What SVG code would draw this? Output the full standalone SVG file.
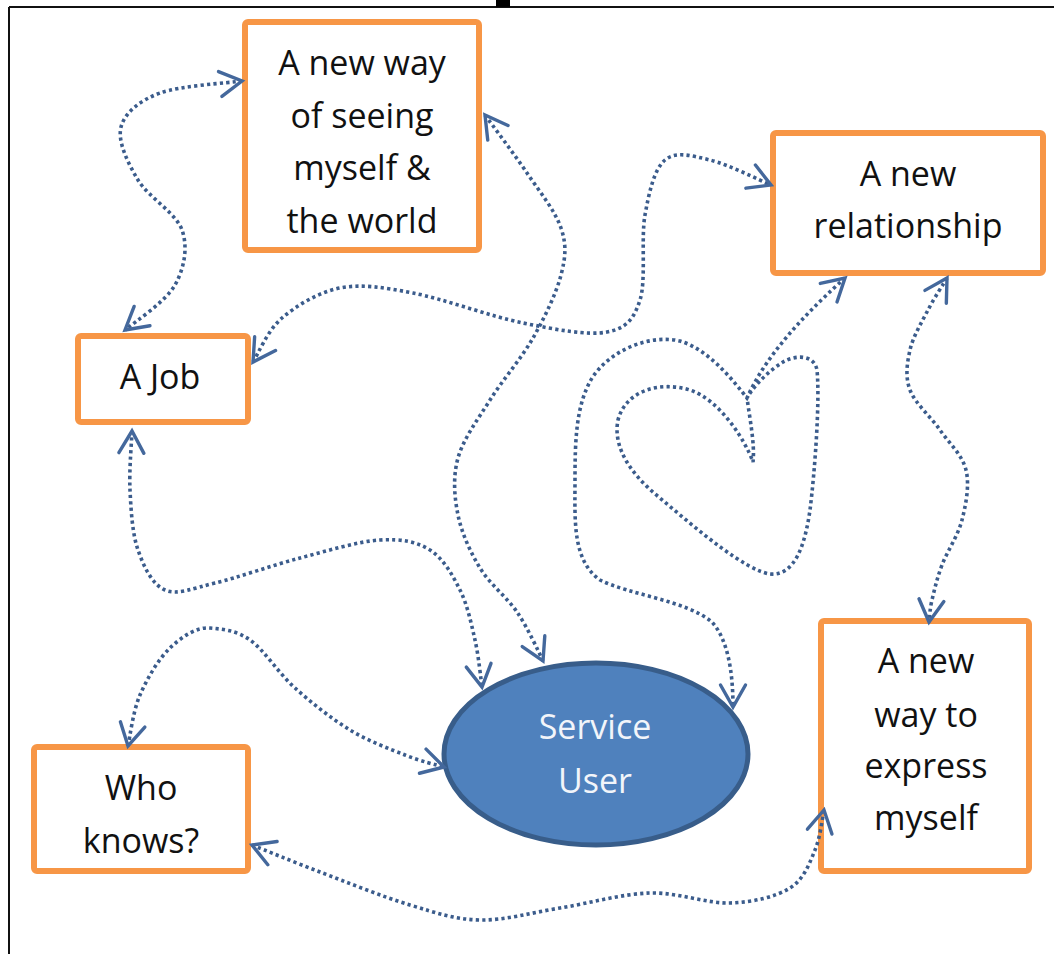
<svg xmlns="http://www.w3.org/2000/svg" width="1054" height="954" viewBox="0 0 1054 954">
  <style>
    .box { fill: #ffffff; stroke: #F79646; stroke-width: 6; }
    .label { font-family: "Open Sans", "Liberation Sans", sans-serif; font-size: 34px; fill: #111111; text-anchor: middle; }
    .hub-label { font-family: "Open Sans", "Liberation Sans", sans-serif; font-size: 34px; fill: #F2F5FA; text-anchor: middle; }
    .link { fill: none; stroke: #3B5C8C; stroke-width: 3.6; stroke-dasharray: 3.2 3.2; marker-start: url(#chev); marker-end: url(#chev); }
  </style>
  <defs>
    <marker id="chev" markerUnits="userSpaceOnUse" markerWidth="30" markerHeight="30" viewBox="-25 -15 30 30" refX="0" refY="0" orient="auto-start-reverse" overflow="visible">
      <path d="M-22,-12.5 L0,0 L-22,12.5" fill="none" stroke="#44689C" stroke-width="3.4" stroke-linecap="round" stroke-linejoin="miter"/>
    </marker>
  </defs>

  <rect width="1054" height="954" fill="#ffffff"/>

  <!-- page frame -->
  <g id="frame">
    <line x1="9" y1="7" x2="1054" y2="7" stroke="#111" stroke-width="2"/>
    <line x1="9" y1="7" x2="9" y2="954" stroke="#111" stroke-width="2"/>
    <rect x="496" y="0" width="14" height="7" fill="#000"/>
  </g>

  <g id="node-seeing">
    <rect class="box" x="245" y="22" width="234" height="228" rx="3"/>
    <text class="label" x="362" y="75">A new way</text>
    <text class="label" x="362" y="128">of seeing</text>
    <text class="label" x="362" y="180">myself &amp;</text>
    <text class="label" x="362" y="233">the world</text>
  </g>

  <g id="node-relationship">
    <rect class="box" x="773" y="133" width="270" height="140" rx="3"/>
    <text class="label" x="908" y="186">A new</text>
    <text class="label" x="908" y="238">relationship</text>
  </g>

  <g id="node-job">
    <rect class="box" x="78" y="336" width="170" height="86" rx="3"/>
    <text class="label" x="160" y="389">A Job</text>
  </g>

  <g id="node-who-knows">
    <rect class="box" x="34" y="747" width="214" height="124" rx="3"/>
    <text class="label" x="141" y="800">Who</text>
    <text class="label" x="141" y="853">knows?</text>
  </g>

  <g id="node-express">
    <rect class="box" x="821" y="621" width="208" height="250" rx="3"/>
    <text class="label" x="926" y="673">A new</text>
    <text class="label" x="926" y="727">way to</text>
    <text class="label" x="926" y="778">express</text>
    <text class="label" x="926" y="830">myself</text>
  </g>

  <g id="node-service-user">
    <ellipse cx="596" cy="754" rx="152" ry="91" fill="#4F81BD" stroke="#385D8A" stroke-width="5"/>
    <text class="hub-label" x="595" y="739">Service</text>
    <text class="hub-label" x="595" y="793">User</text>
  </g>

  <!-- dotted two-way connectors, drawn last so the heads sit over the borders -->
  <g id="connectors">
    <!-- seeing the world <-> job -->
    <path class="link" d="M242,81 C227.5,83 180,85.7 160,93 C140,100.3 124.7,112.5 121,127 C117.3,141.5 127.8,162.8 138,180 C148.2,197.2 175.8,212.5 182,230 C188.2,247.5 184.3,268.3 175,285 C165.7,301.7 134.2,322.5 125,330"/>
    <!-- seeing the world <-> service user -->
    <path class="link" d="M485,115 C492,124.7 514.3,154.2 527,173 C539.7,191.8 555.3,211 561,228 C566.7,245 565.7,256.7 561,275 C556.3,293.3 544.8,317.2 533,338 C521.2,358.8 502.5,380 490,400 C477.5,420 463.3,438.8 458,458 C452.7,477.2 454.3,496.7 458,515 C461.7,533.3 470.2,551.8 480,568 C489.8,584.2 506.5,596.7 517,612 C527.5,627.3 538.7,652 543,661"/>
    <!-- job <-> relationship -->
    <path class="link" d="M253,362 C257.8,354.7 267.5,330.3 282,318 C296.5,305.7 318.2,292.2 340,288 C361.8,283.8 382.5,287.2 413,293 C443.5,298.8 490.7,316.5 523,323 C555.3,329.5 587.5,335.8 607,332 C626.5,328.2 633.7,319.5 640,300 C646.3,280.5 640.8,238.3 645,215 C649.2,191.7 654.2,169.2 665,160 C675.8,150.8 692.3,155.8 710,160 C727.7,164.2 760.8,180.8 771,185"/>
    <!-- relationship <-> service user, looping through a heart -->
    <path class="link" d="M845,278 C815,305 768,350 747,398 C750,420 755,445 753,462 C745,440 720,400 690,390 C660,381 626,390 618,420 C612,450 635,478 660,498 C700,532 745,570 770,574 C795,576 805,545 810,510 C815,470 820,400 817,370 C814,354 795,355 783,362 C770,370 755,384 747,398 C735,383 710,350 680,341 C650,334 610,350 592,378 C576,405 575,440 575,480 C575,520 572,560 600,580 C630,595 685,600 712,622 C730,642 733,680 733,707"/>
    <!-- relationship <-> expressing myself -->
    <path class="link" d="M947,278 C943.8,283.3 934.2,298 928,310 C921.8,322 913,336.7 910,350 C907,363.3 905,376.7 910,390 C915,403.3 930.7,416.7 940,430 C949.3,443.3 962.3,455 966,470 C969.7,485 966,504.2 962,520 C958,535.8 947,551.7 942,565 C937,578.3 934.2,590.7 932,600 C929.8,609.3 929.5,617.5 929,622"/>
    <!-- who knows <-> expressing myself -->
    <path class="link" d="M252,845 C263.3,849.5 293.7,862 320,872 C346.3,882 383.3,897 410,905 C436.7,913 455,919.5 480,920 C505,920.5 531.7,912.5 560,908 C588.3,903.5 621.7,893.8 650,893 C678.3,892.2 706.7,903.8 730,903 C753.3,902.2 775.8,896.8 790,888 C804.2,879.2 809.7,862.7 815,850 C820.3,837.3 822,820 824,810"/>
    <!-- who knows <-> service user -->
    <path class="link" d="M128,746 C130,736.7 133,711.2 140,695 C147,678.8 158.3,659.2 170,648 C181.7,636.8 196.7,626.7 210,628 C223.3,629.3 235.8,630 250,640 C264.2,650 278.3,673 295,688 C311.7,703 331.7,718.8 350,730 C368.3,741.2 389.5,748.8 405,755 C420.5,761.2 436.7,765 444,767"/>
    <!-- job <-> service user -->
    <path class="link" d="M132,431 C131.7,441.7 129,470.3 130,490 C131,509.7 132.2,533.3 138,550 C143.8,566.7 152.2,584.5 165,590 C177.8,595.5 192.5,588.3 215,583 C237.5,577.7 272.5,565.2 300,558 C327.5,550.8 358.3,541.3 380,540 C401.7,538.7 416.7,541.7 430,550 C443.3,558.3 452.5,575 460,590 C467.5,605 471.3,623.8 475,640 C478.7,656.2 480.8,679.2 482,687"/>
  </g>
</svg>
